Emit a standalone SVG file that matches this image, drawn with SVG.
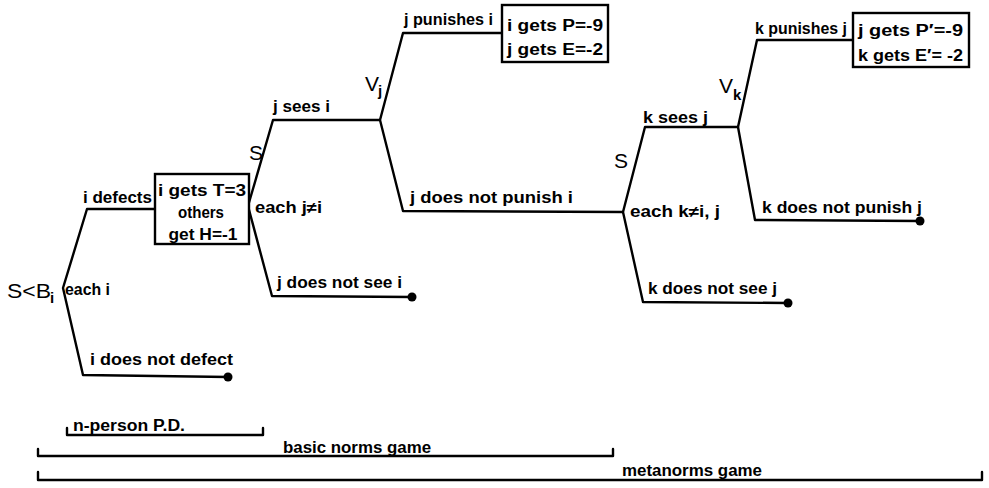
<svg xmlns="http://www.w3.org/2000/svg" width="989" height="488" viewBox="0 0 989 488">
<style>
.ln{fill:none;stroke:#000;stroke-width:2.4;stroke-linejoin:round;stroke-linecap:round}
.bx{fill:#fff;stroke:#000;stroke-width:2.4}
.t{font-family:"Liberation Sans",Arial,sans-serif;font-size:16px;fill:#000;font-weight:bold}
.tl{font-family:"Liberation Sans",Arial,sans-serif;font-size:17px;fill:#000;font-weight:bold}
.big{font-family:"Liberation Sans",Arial,sans-serif;font-size:21px;fill:#000}
.sub{font-family:"Liberation Sans",Arial,sans-serif;font-size:15px;fill:#000;font-weight:bold}
.c{text-anchor:middle}
.dot{fill:#000}
</style>
<rect width="989" height="488" fill="#fff"/>
<g id="connectors">
<path class="ln" d="M155,209 H87 L63,288 L83,375 L228,377"/>
<path class="ln" d="M380,120 H273 L248,206 L272,296 L412,297"/>
<path class="ln" d="M502,33 H403 L380,120 L403,211 L623,212"/>
<path class="ln" d="M738,127 H645 L623,212 L643,302 L788,303"/>
<path class="ln" d="M853,40 H757 L738,127 L755,220 L920,221"/>
</g>
<g id="node-root">
<text class="big" x="7" y="298" textLength="44" lengthAdjust="spacingAndGlyphs">S&lt;B</text>
<text class="sub" x="50" y="303">i</text>
<text class="t" x="65" y="295" font-size="15" textLength="45" lengthAdjust="spacingAndGlyphs">each i</text>
<text class="t" x="83" y="203" textLength="69" lengthAdjust="spacingAndGlyphs">i defects</text>
<text class="tl" x="90" y="365" textLength="143" lengthAdjust="spacingAndGlyphs">i does not defect</text>
</g>
<g id="box-defect">
<rect class="bx" x="155" y="174" width="94" height="70"/>
<text class="t" x="158" y="196" textLength="88" lengthAdjust="spacingAndGlyphs">i  gets T=3</text>
<text class="t c" x="201" y="218" textLength="46" lengthAdjust="spacingAndGlyphs">others</text>
<text class="t c" x="203" y="240" textLength="69" lengthAdjust="spacingAndGlyphs">get H=-1</text>
</g>
<g id="node-see">
<text class="big" x="249" y="160">S</text>
<text class="t" x="255" y="213" font-size="15" textLength="67" lengthAdjust="spacingAndGlyphs">each j≠i</text>
<text class="t" x="273" y="112" textLength="57" lengthAdjust="spacingAndGlyphs">j sees i</text>
<text class="tl" x="277" y="288" textLength="125" lengthAdjust="spacingAndGlyphs">j  does not see i</text>
</g>
<g id="node-punish">
<text class="big" x="365" y="91">V</text>
<text class="sub" x="378" y="96">j</text>
<text class="t" x="404" y="25" textLength="89" lengthAdjust="spacingAndGlyphs">j punishes i</text>
<text class="tl" x="410" y="203" textLength="163" lengthAdjust="spacingAndGlyphs">j  does not  punish i</text>
</g>
<g id="box-punish">
<rect class="bx" x="502" y="5" width="106" height="57"/>
<text class="t" x="507" y="31" textLength="96" lengthAdjust="spacingAndGlyphs">i gets P=-9</text>
<text class="t" x="507" y="55" textLength="96" lengthAdjust="spacingAndGlyphs">j gets E=-2</text>
</g>
<g id="node-meta-see">
<text class="big" x="614" y="168" font-size="18">S</text>
<text class="t" x="630" y="217" textLength="90" lengthAdjust="spacingAndGlyphs">each  k≠i, j</text>
<text class="t" x="643" y="123" textLength="65" lengthAdjust="spacingAndGlyphs">k sees  j</text>
<text class="tl" x="648" y="294" textLength="129" lengthAdjust="spacingAndGlyphs">k does not see j</text>
</g>
<g id="node-meta-punish">
<text class="big" x="719" y="93">V</text>
<text class="sub" x="733" y="100">k</text>
<text class="t" x="755" y="34" textLength="92" lengthAdjust="spacingAndGlyphs">k punishes j</text>
<text class="tl" x="762" y="213" textLength="160" lengthAdjust="spacingAndGlyphs">k does not punish j</text>
</g>
<g id="box-meta-punish">
<rect class="bx" x="853" y="13" width="116" height="54"/>
<text class="t" x="858" y="36" textLength="105" lengthAdjust="spacingAndGlyphs">j gets  P′=-9</text>
<text class="t" x="858" y="61" textLength="105" lengthAdjust="spacingAndGlyphs">k gets  E′= -2</text>
</g>
<g id="terminals">
<circle class="dot" cx="228" cy="377" r="4.5"/>
<circle class="dot" cx="412" cy="297" r="4.5"/>
<circle class="dot" cx="788" cy="303" r="4.5"/>
<circle class="dot" cx="920" cy="221" r="4.5"/>
</g>
<g id="brackets">
<path class="ln" d="M67,428 V435 H263 V428"/>
<text class="t" x="73" y="431" font-size="15" textLength="112" lengthAdjust="spacingAndGlyphs">n-person P.D.</text>
<path class="ln" d="M38,449 V456 H613 V449"/>
<text class="t" x="283" y="453" textLength="148" lengthAdjust="spacingAndGlyphs">basic  norms  game</text>
<path class="ln" d="M38,472 V480 H982 V472"/>
<text class="t" x="622" y="476" textLength="140" lengthAdjust="spacingAndGlyphs">metanorms  game</text>
</g>
</svg>
